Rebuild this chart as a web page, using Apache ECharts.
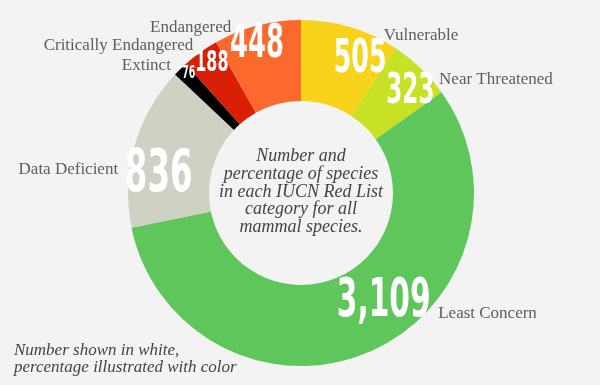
<!DOCTYPE html>
<html><head><meta charset="utf-8">
<script src="https://cdn.jsdelivr.net/npm/echarts@6/dist/echarts.min.js"></script>
<style>html,body{margin:0;padding:0;background:#f3f3f3}#c{width:600px;height:385px}</style>
</head><body><div id="c"></div>
<script>
const categories = ['Vulnerable','Near Threatened','Least Concern','Data Deficient','Extinct','Critically Endangered','Endangered'];
const speciesCounts = [505, 323, 3109, 836, 76, 188, 448];
const categoryColors = ['#f8d31c','#c9e124','#5ec65a','#d0d1c5','#000000','#d91f06','#fb6a2c'];
const centerNote = ['Number and','percentage of species','in each IUCN Red List','category for all','mammal species.'];
const footNote = ['Number shown in white,','percentage illustrated with color'];

// label styling / placement (offsets relative to the library's slice-label anchor)
const numberLabelStyle = [
  {size: 46, dx: 20.5, dy: -3},
  {size: 42, dx: 15.7, dy: -3},
  {size: 54, dx: 28.4, dy: -15},
  {size: 59, dx: -11.9, dy: 20},
  {size: 17, dx: -17.6, dy: -22.5},
  {size: 29, dx: -10.3, dy: -19},
  {size: 47, dx: -9.6, dy: -16.7}
];
const NUMBER_SCALE_X = 0.55;
const nameLabelStyle = [
  {align: 'left',  dx: 44.2, dy: -28},
  {align: 'left',  dx: 44.4, dy: -16},
  {align: 'left',  dx: 82.9, dy: -4},
  {align: 'right', dx: -52.5, dy: 14},
  {align: 'right', dx: -35.6, dy: -30},
  {align: 'right', dx: -28.9, dy: -37},
  {align: 'right', dx: -35.4, dy: -34}
];

const chart = echarts.init(document.getElementById('c'), null, {renderer: 'canvas'});
const CENTER = [301, 193];
const RADIUS = [92, 173];

const numberData = categories.map((n, i) => ({
  name: n, value: speciesCounts[i],
  itemStyle: {color: categoryColors[i]},
  label: {fontSize: numberLabelStyle[i].size}
}));
const nameData = categories.map((n, i) => ({
  name: n, value: speciesCounts[i],
  itemStyle: {color: 'rgba(0,0,0,0)'}
}));

chart.setOption({
  backgroundColor: '#f3f3f3',
  animation: false,
  series: [
    {
      type: 'pie', center: CENTER, radius: RADIUS, startAngle: 90, clockwise: true,
      avoidLabelOverlap: false, emphasis: {disabled: true}, silent: true,
      data: numberData,
      label: {
        show: true, position: 'inside', color: '#ffffff',
        fontFamily: '"DejaVu Sans", sans-serif',
        fontWeight: 'bold',
        formatter: p => echarts.format.addCommas(p.value)
      },
      labelLine: {show: false},
      // horizontal offset is applied inside the condensed (scaled) label frame
      labelLayout: p => ({
        dx: numberLabelStyle[p.dataIndex].dx / NUMBER_SCALE_X,
        dy: numberLabelStyle[p.dataIndex].dy
      })
    },
    {
      type: 'pie', center: CENTER, radius: RADIUS, startAngle: 90, clockwise: true,
      avoidLabelOverlap: false, emphasis: {disabled: true}, silent: true,
      data: nameData,
      label: {
        show: true, position: 'inside', color: '#5d5d5d',
        fontFamily: '"Liberation Serif", serif', fontSize: 17,
        formatter: p => p.name
      },
      labelLine: {show: false},
      labelLayout: p => ({
        dx: nameLabelStyle[p.dataIndex].dx, dy: nameLabelStyle[p.dataIndex].dy,
        align: nameLabelStyle[p.dataIndex].align, verticalAlign: 'middle'
      })
    }
  ],
  graphic: [
    {
      type: 'text', x: 301, y: 192, silent: true,
      style: {
        text: centerNote.join('\n'), fill: '#444444',
        font: 'italic 18px "Liberation Serif", serif', lineHeight: 17.75,
        align: 'center', verticalAlign: 'middle'
      }
    },
    {
      type: 'text', x: 14, y: 359, silent: true,
      style: {
        text: footNote.join('\n'), fill: '#444444',
        font: 'italic 17px "Liberation Serif", serif', lineHeight: 17,
        align: 'left', verticalAlign: 'middle'
      }
    }
  ]
});

// condense the white number labels horizontally
const pieData = chart.getModel().getSeriesByIndex(0).getData();
pieData.each(idx => {
  const el = pieData.getItemGraphicEl(idx);
  const label = el && el.getTextContent && el.getTextContent();
  if (label) {
    label.scaleX = NUMBER_SCALE_X;
    label.markRedraw();
  }
});
chart.getZr().refreshImmediately();
</script></body></html>
